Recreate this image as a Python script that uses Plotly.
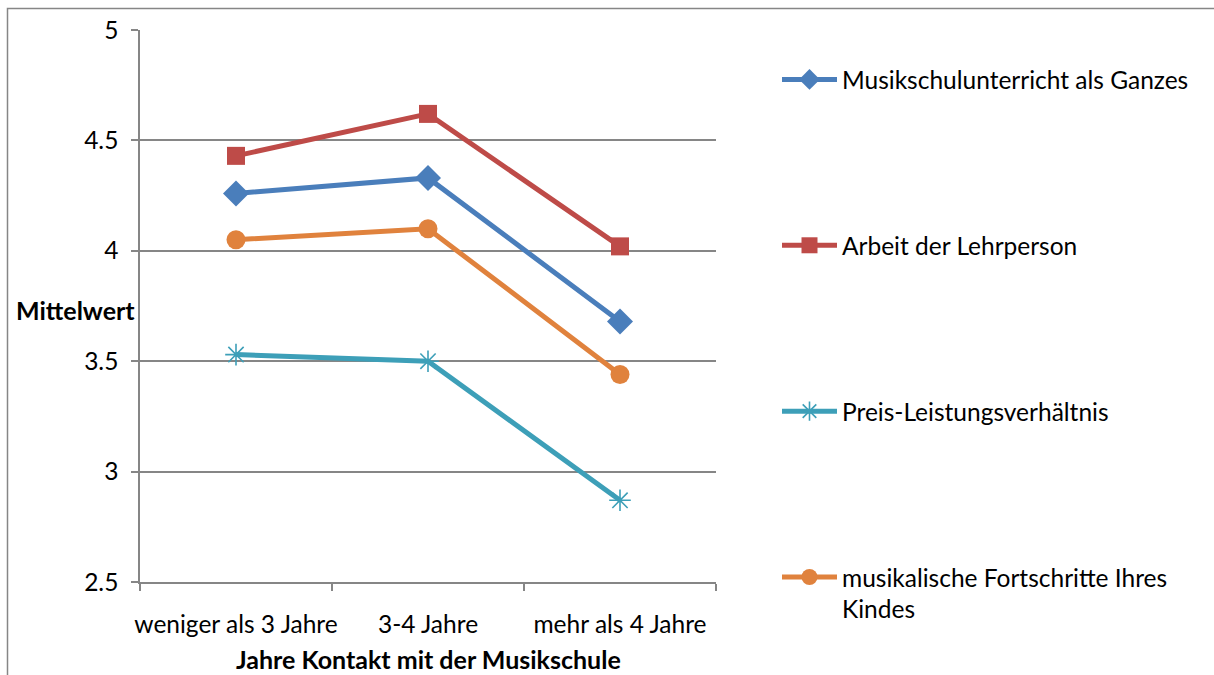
import plotly.graph_objects as go

categories = ["weniger als 3 Jahre", "3-4 Jahre", "mehr als 4 Jahre"]
musikschulunterricht = [4.26, 4.33, 3.68]
arbeit_lehrperson = [4.43, 4.62, 4.02]
preis_leistung = [3.53, 3.50, 2.87]
fortschritte = [4.05, 4.10, 3.44]

series_names = [
    "Musikschulunterricht als Ganzes",
    "Arbeit der Lehrperson",
    "Preis-Leistungsverhältnis",
    "musikalische Fortschritte Ihres<br>Kindes",
]
y_ticks = [2.5, 3, 3.5, 4, 4.5, 5]
y_ticktext = ["2.5", "3", "3.5", "4", "4.5", "5"]

W, H = 1214, 675
L, R, T, B = 140, 716, 30, 582
FONT = "Lato"
FS = 24.5

fig = go.Figure()
styles = [
    (musikschulunterricht, "#4A7EBB", "diamond", 20, None),
    (arbeit_lehrperson, "#BE4B48", "square", 18, None),
    (preis_leistung, "#3D9FB8", "asterisk-open", 18, 1.6),
    (fortschritte, "#E0823D", "circle", 19, None),
]
for i, (vals, col, sym, size, lw) in enumerate(styles):
    marker = dict(symbol=sym, size=size, color=col)
    if lw:
        marker["line"] = dict(color=col, width=lw)
    fig.add_trace(go.Scatter(
        x=categories, y=vals, name=series_names[i], mode="lines+markers",
        line=dict(color=col, width=5), marker=marker,
        legendgroup=f"g{i}",
    ))

def px_x(p):
    return (p - L) / (R - L)

def px_y(p):
    return (B - p) / (B - T)

fig.update_layout(
    width=W, height=H,
    margin=dict(l=L, r=W - R, t=T, b=H - B, autoexpand=False),
    paper_bgcolor="white", plot_bgcolor="white",
    font=dict(family=FONT, size=FS, color="#000000"),
    showlegend=True,
    legend=dict(
        x=px_x(777), y=px_y(57),
        xanchor="left", yanchor="top",
        font=dict(family=FONT, size=FS, color="#000000"),
        tracegroupgap=131, itemwidth=55, valign="top",
        bgcolor="rgba(0,0,0,0)", maxheight=700,
    ),
    xaxis=dict(
        type="category", range=[-0.5, 2.5], tickson="boundaries",
        ticks="outside", ticklen=7, tickcolor="#868686", tickwidth=1.5,
        showgrid=False, showline=True, linecolor="#868686", linewidth=1.5,
        tickfont=dict(family=FONT, size=FS), zeroline=False,
        tickangle=0, ticklabelstandoff=20,
    ),
    yaxis=dict(
        range=[2.5, 5], tickvals=y_ticks, ticktext=y_ticktext,
        ticks="outside", ticklen=7, tickcolor="#868686", tickwidth=1.5,
        showgrid=True, gridcolor="#868686", gridwidth=1.5,
        showline=True, linecolor="#868686", linewidth=1.5,
        tickfont=dict(family=FONT, size=FS), zeroline=False,
        ticklabelstandoff=8,
    ),
    annotations=[
        dict(text="<b>Mittelwert</b>", x=px_x(14), y=px_y(310), xref="paper", yref="paper",
             xanchor="left", yanchor="middle", showarrow=False,
             font=dict(family=FONT, size=25, color="#000000")),
        dict(text="<b>Jahre Kontakt mit der Musikschule</b>", x=px_x(428), y=px_y(659),
             xref="paper", yref="paper", xanchor="center", yanchor="middle", showarrow=False,
             font=dict(family=FONT, size=25, color="#000000")),
    ],
    shapes=[
        dict(type="rect", xref="paper", yref="paper",
             x0=px_x(7.5), x1=px_x(1216), y0=px_y(8.5), y1=px_y(690),
             line=dict(color="#868686", width=1.5), fillcolor="rgba(0,0,0,0)", layer="below"),
    ],
)

fig.write_html(
    "out.html",
    config={"displayModeBar": False},
    post_script="document.body.style.margin='0';document.body.style.padding='0';",
)
